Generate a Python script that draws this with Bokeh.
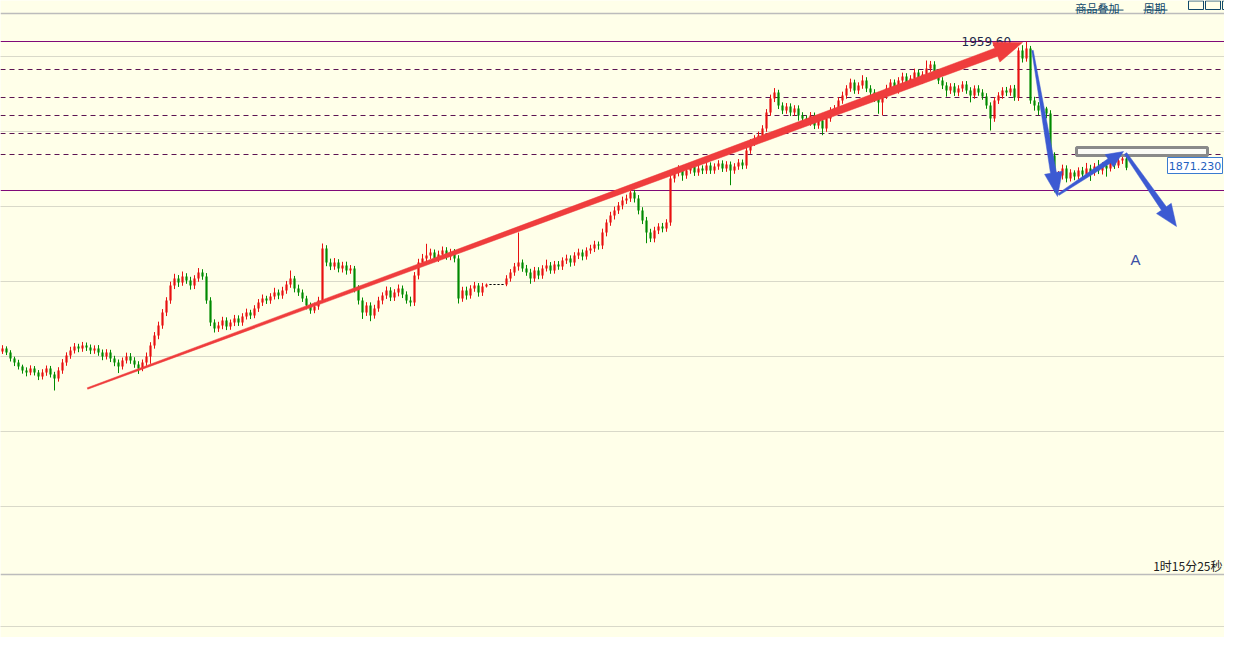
import math
from bokeh.plotting import figure
from bokeh.models import ColumnDataSource
from bokeh.core.properties import value
from bokeh.embed import file_html
from bokeh.resources import INLINE

# ---------------- data (bar index, price) ----------------
opens = [
    1742.6, 1744.7, 1741.9, 1737.7, 1734.9, 1732.1, 1729.3, 1727.9, 1730.7, 1727.9,
    1725.1, 1727.9, 1730.7, 1726.5, 1723.7, 1729.3, 1734.9, 1739.8, 1743.3, 1746.1,
    1744.7, 1746.8, 1745.4, 1743.3, 1744.7, 1741.9, 1739.1, 1741.9, 1737.7, 1734.9,
    1732.1, 1736.3, 1739.1, 1736.3, 1733.5, 1730.7, 1734.9, 1739.1, 1746.8, 1753.8,
    1760.8, 1769.9, 1778.3, 1788.8, 1793.7, 1790.9, 1795.1, 1792.3, 1788.8, 1793.7,
    1797.9, 1795.1, 1778.3, 1762.9, 1758.7, 1760.8, 1764.3, 1760.1, 1762.9, 1765.7,
    1762.9, 1767.1, 1769.9, 1767.8, 1772.7, 1776.9, 1779.7, 1778.3, 1781.1, 1783.9,
    1781.8, 1785.3, 1789.5, 1793.7, 1786.7, 1783.9, 1779.7, 1774.8, 1771.3, 1774.1,
    1778.3, 1814.7, 1804.9, 1802.1, 1804.9, 1800.7, 1802.8, 1799.3, 1800.7, 1786.7,
    1778.3, 1769.9, 1774.8, 1767.8, 1772.7, 1778.3, 1781.8, 1785.3, 1780.4, 1783.9,
    1786.7, 1782.5, 1778.3, 1776.9, 1795.8, 1804.9, 1807.7, 1809.8, 1811.9, 1807.7,
    1810.5, 1813.3, 1809.1, 1811.9, 1807.7, 1779.7, 1785.3, 1781.8, 1786.7, 1788.8,
    1783.9, 1788.1, 1789.5, 1789.5, 1789.5, 1789.5, 1789.5, 1793.7, 1797.9, 1802.1,
    1804.9, 1800.7, 1797.9, 1793.7, 1799.3, 1795.8, 1800.7, 1802.8, 1799.3, 1803.5,
    1802.1, 1806.3, 1807.7, 1804.9, 1809.8, 1811.9, 1809.1, 1813.3, 1814.7, 1817.5,
    1816.8, 1825.9, 1832.9, 1837.8, 1841.3, 1844.8, 1848.3, 1849.7, 1853.9, 1849.7,
    1841.3, 1834.3, 1825.9, 1821.7, 1827.3, 1830.1, 1828.7, 1832.9, 1863.7, 1867.9,
    1870.7, 1865.8, 1869.3, 1872.1, 1867.9, 1870.7, 1869.3, 1872.8, 1869.3, 1872.1,
    1874.2, 1870.7, 1873.5, 1869.3, 1872.1, 1874.9, 1872.8, 1883.3, 1888.9, 1891.7,
    1893.8, 1898.7, 1909.9, 1919.7, 1923.9, 1914.8, 1911.3, 1914.1, 1909.9, 1912.7,
    1907.8, 1905.7, 1902.9, 1907.8, 1900.8, 1904.3, 1898.7, 1905.7, 1911.3, 1912.7,
    1918.3, 1921.8, 1926.7, 1930.9, 1925.3, 1928.8, 1932.3, 1926.7, 1923.9, 1919.7,
    1916.9, 1921.8, 1926.7, 1930.9, 1925.3, 1932.3, 1935.1, 1929.5, 1933.7, 1937.9,
    1932.3, 1936.5, 1940.7, 1943.5, 1937.9, 1932.3, 1928.8, 1925.3, 1928.1, 1923.9,
    1926.7, 1929.5, 1925.3, 1921.8, 1926.7, 1923.9, 1921.1, 1914.8, 1905.7, 1918.3,
    1921.8, 1925.3, 1923.9, 1926.7, 1920.4, 1953.3, 1947.7, 1954.7, 1918.3, 1914.8,
    1911.3, 1912.7, 1909.2, 1879.8, 1862.3, 1865.8, 1870.7, 1863.7, 1867.9, 1865.1,
    1869.3, 1866.5, 1870.7, 1867.9, 1872.1, 1869.3, 1872.8, 1870.7, 1874.9, 1872.8,
    1876.3, 1877.7,
]
closes = [
    1744.7, 1741.9, 1737.7, 1734.9, 1732.1, 1729.3, 1727.9, 1730.7, 1727.9, 1725.1,
    1727.9, 1730.7, 1726.5, 1723.7, 1729.3, 1734.9, 1739.8, 1743.3, 1746.1, 1744.7,
    1746.8, 1745.4, 1743.3, 1744.7, 1741.9, 1739.1, 1741.9, 1737.7, 1734.9, 1732.1,
    1736.3, 1739.1, 1736.3, 1733.5, 1730.7, 1734.9, 1739.1, 1746.8, 1753.8, 1760.8,
    1769.9, 1778.3, 1788.8, 1793.7, 1790.9, 1795.1, 1792.3, 1788.8, 1793.7, 1797.9,
    1795.1, 1778.3, 1762.9, 1758.7, 1760.8, 1764.3, 1760.1, 1762.9, 1765.7, 1762.9,
    1767.1, 1769.9, 1767.8, 1772.7, 1776.9, 1779.7, 1778.3, 1781.1, 1783.9, 1781.8,
    1785.3, 1789.5, 1793.7, 1786.7, 1783.9, 1779.7, 1774.8, 1771.3, 1774.1, 1778.3,
    1814.7, 1804.9, 1802.1, 1804.9, 1800.7, 1802.8, 1799.3, 1800.7, 1786.7, 1778.3,
    1769.9, 1774.8, 1767.8, 1772.7, 1778.3, 1781.8, 1785.3, 1780.4, 1783.9, 1786.7,
    1782.5, 1778.3, 1776.9, 1795.8, 1804.9, 1807.7, 1809.8, 1811.9, 1807.7, 1810.5,
    1813.3, 1809.1, 1811.9, 1807.7, 1779.7, 1785.3, 1781.8, 1786.7, 1788.8, 1783.9,
    1788.1, 1789.5, 1789.5, 1789.5, 1789.5, 1789.5, 1793.7, 1797.9, 1802.1, 1804.9,
    1800.7, 1797.9, 1793.7, 1799.3, 1795.8, 1800.7, 1802.8, 1799.3, 1803.5, 1802.1,
    1806.3, 1807.7, 1804.9, 1809.8, 1811.9, 1809.1, 1813.3, 1814.7, 1817.5, 1816.8,
    1825.9, 1832.9, 1837.8, 1841.3, 1844.8, 1848.3, 1849.7, 1853.9, 1849.7, 1841.3,
    1834.3, 1825.9, 1821.7, 1827.3, 1830.1, 1828.7, 1832.9, 1863.7, 1867.9, 1870.7,
    1865.8, 1869.3, 1872.1, 1867.9, 1870.7, 1869.3, 1872.8, 1869.3, 1872.1, 1874.2,
    1870.7, 1873.5, 1869.3, 1872.1, 1874.9, 1872.8, 1883.3, 1888.9, 1891.7, 1893.8,
    1898.7, 1909.9, 1919.7, 1923.9, 1914.8, 1911.3, 1914.1, 1909.9, 1912.7, 1907.8,
    1905.7, 1902.9, 1907.8, 1900.8, 1904.3, 1898.7, 1905.7, 1911.3, 1912.7, 1918.3,
    1921.8, 1926.7, 1930.9, 1925.3, 1928.8, 1932.3, 1926.7, 1923.9, 1919.7, 1916.9,
    1921.8, 1926.7, 1930.9, 1925.3, 1932.3, 1935.1, 1929.5, 1933.7, 1937.9, 1932.3,
    1936.5, 1940.7, 1943.5, 1937.9, 1932.3, 1928.8, 1925.3, 1928.1, 1923.9, 1926.7,
    1929.5, 1925.3, 1921.8, 1926.7, 1923.9, 1921.1, 1914.8, 1905.7, 1918.3, 1921.8,
    1925.3, 1923.9, 1926.7, 1920.4, 1953.3, 1947.7, 1954.7, 1918.3, 1914.8, 1911.3,
    1912.7, 1909.2, 1879.8, 1862.3, 1865.8, 1870.7, 1863.7, 1867.9, 1865.1, 1869.3,
    1866.5, 1870.7, 1867.9, 1872.1, 1869.3, 1872.8, 1870.7, 1874.9, 1872.8, 1876.3,
    1877.7, 1871.23,
]
highs = [
    1747.0, 1746.2, 1743.5, 1739.0, 1736.8, 1733.4, 1731.5, 1732.9, 1732.4, 1729.6,
    1730.2, 1732.8, 1732.5, 1728.4, 1731.6, 1737.3, 1742.0, 1745.9, 1748.5, 1748.0,
    1749.3, 1748.9, 1747.5, 1746.9, 1747.1, 1744.0, 1744.2, 1743.8, 1739.6, 1737.0,
    1738.4, 1741.8, 1741.5, 1738.6, 1735.8, 1737.0, 1741.9, 1749.1, 1756.2, 1763.5,
    1772.3, 1780.6, 1791.5, 1797.0, 1796.1, 1798.6, 1797.4, 1794.9, 1796.0, 1801.0,
    1800.2, 1797.5, 1780.6, 1765.1, 1763.4, 1766.9, 1766.5, 1765.0, 1768.2, 1767.9,
    1769.4, 1772.6, 1771.8, 1775.0, 1779.3, 1782.5, 1781.6, 1783.4, 1787.2, 1786.0,
    1787.9, 1792.0, 1799.3, 1795.5, 1789.4, 1786.0, 1781.6, 1776.9, 1776.8, 1780.9,
    1818.2, 1817.0, 1807.6, 1808.0, 1807.2, 1805.4, 1805.5, 1803.1, 1802.5, 1789.0,
    1780.4, 1777.1, 1777.0, 1775.3, 1780.9, 1784.0, 1788.1, 1787.6, 1786.2, 1789.5,
    1788.8, 1784.7, 1781.0, 1798.2, 1807.5, 1810.9, 1818.0, 1814.6, 1814.0, 1813.2,
    1816.1, 1815.6, 1814.5, 1814.3, 1810.0, 1787.9, 1788.0, 1789.0, 1791.3, 1790.5,
    1790.6, 1790.2, 1789.5, 1789.5, 1789.5, 1789.5, 1796.0, 1800.3, 1804.6, 1825.9,
    1807.0, 1803.2, 1800.5, 1801.8, 1801.6, 1803.0, 1806.9, 1805.2, 1806.0, 1805.9,
    1808.5, 1810.4, 1809.9, 1812.1, 1814.6, 1814.0, 1815.5, 1817.3, 1820.1, 1819.6,
    1828.6, 1835.1, 1840.4, 1844.0, 1847.2, 1851.0, 1852.4, 1856.7, 1855.8, 1852.1,
    1843.6, 1836.8, 1828.5, 1829.9, 1832.4, 1832.6, 1835.2, 1866.5, 1870.6, 1873.0,
    1872.9, 1871.6, 1874.5, 1874.0, 1873.1, 1872.9, 1875.2, 1875.0, 1874.3, 1876.5,
    1876.4, 1875.8, 1875.6, 1874.4, 1877.3, 1877.0, 1885.6, 1891.2, 1894.0, 1896.5,
    1901.0, 1912.3, 1922.4, 1927.0, 1925.8, 1917.0, 1916.5, 1916.3, 1915.0, 1914.9,
    1910.1, 1908.0, 1910.2, 1909.9, 1906.7, 1906.5, 1908.0, 1913.6, 1915.1, 1920.6,
    1924.5, 1929.0, 1933.6, 1932.9, 1931.0, 1936.0, 1934.6, 1929.0, 1926.2, 1922.0,
    1924.0, 1929.3, 1933.2, 1933.0, 1934.6, 1937.8, 1937.4, 1936.0, 1940.6, 1940.1,
    1938.8, 1946.3, 1946.0, 1945.8, 1940.2, 1934.6, 1931.1, 1930.4, 1930.5, 1929.0,
    1931.8, 1931.9, 1927.6, 1928.9, 1929.0, 1926.2, 1923.4, 1917.0, 1920.6, 1924.1,
    1927.6, 1927.8, 1929.0, 1929.2, 1955.4, 1957.0, 1959.6, 1956.5, 1920.9, 1917.1,
    1915.8, 1913.9, 1911.5, 1882.0, 1868.9, 1873.4, 1872.9, 1870.2, 1869.4, 1871.5,
    1871.8, 1874.6, 1873.3, 1874.5, 1876.6, 1875.0, 1875.4, 1877.2, 1877.4, 1878.6,
    1880.1, 1878.9,
]
lows = [
    1740.9, 1740.1, 1735.6, 1732.4, 1730.0, 1727.1, 1725.2, 1726.0, 1725.8, 1722.6,
    1723.0, 1725.6, 1724.4, 1715.3, 1721.5, 1727.0, 1732.6, 1737.5, 1741.2, 1742.1,
    1742.4, 1743.0, 1740.8, 1741.0, 1739.6, 1736.5, 1737.0, 1735.2, 1732.3, 1727.5,
    1730.0, 1734.2, 1734.0, 1731.2, 1726.9, 1728.8, 1732.6, 1734.0, 1744.6, 1751.2,
    1758.5, 1767.4, 1776.0, 1786.3, 1787.8, 1788.6, 1790.0, 1785.9, 1786.3, 1791.4,
    1792.8, 1776.0, 1760.4, 1755.9, 1756.3, 1758.2, 1757.6, 1757.8, 1760.4, 1760.5,
    1760.6, 1765.0, 1765.3, 1765.9, 1770.3, 1774.5, 1775.9, 1776.0, 1779.0, 1779.2,
    1779.5, 1783.0, 1787.2, 1784.0, 1781.5, 1777.3, 1772.1, 1769.0, 1769.4, 1771.8,
    1776.9, 1802.3, 1799.6, 1799.8, 1798.0, 1797.9, 1796.4, 1797.0, 1784.0, 1775.5,
    1765.4, 1767.5, 1763.8, 1765.6, 1770.4, 1775.6, 1779.4, 1777.9, 1778.0, 1781.2,
    1780.0, 1776.1, 1774.2, 1774.5, 1793.1, 1802.3, 1805.0, 1807.4, 1805.2, 1805.3,
    1808.0, 1806.8, 1806.5, 1805.0, 1776.2, 1777.4, 1778.9, 1779.6, 1784.4, 1781.0,
    1781.5, 1787.4, 1789.5, 1789.5, 1789.5, 1789.5, 1788.3, 1791.5, 1795.6, 1799.2,
    1798.4, 1795.6, 1790.0, 1791.4, 1793.2, 1793.5, 1798.6, 1797.0, 1797.1, 1799.8,
    1799.7, 1803.9, 1802.0, 1802.6, 1807.3, 1806.4, 1806.9, 1811.0, 1812.2, 1813.9,
    1814.3, 1823.2, 1830.6, 1835.0, 1838.9, 1842.1, 1845.9, 1847.3, 1846.9, 1838.6,
    1831.8, 1818.4, 1819.2, 1819.0, 1824.8, 1826.0, 1826.4, 1830.6, 1860.9, 1865.2,
    1862.1, 1863.5, 1867.0, 1865.5, 1865.6, 1866.8, 1866.9, 1866.9, 1867.0, 1869.8,
    1868.3, 1868.4, 1859.0, 1867.0, 1869.8, 1870.2, 1870.5, 1881.0, 1886.5, 1889.4,
    1891.5, 1896.4, 1907.6, 1917.2, 1912.3, 1908.8, 1909.0, 1907.4, 1907.6, 1904.2,
    1903.4, 1900.5, 1900.6, 1898.3, 1898.5, 1894.0, 1896.4, 1903.4, 1909.0, 1910.4,
    1916.0, 1919.5, 1924.4, 1923.0, 1922.8, 1926.5, 1924.2, 1921.5, 1917.3, 1909.0,
    1908.0, 1919.4, 1924.2, 1923.0, 1923.1, 1930.0, 1927.0, 1927.2, 1931.4, 1929.8,
    1930.0, 1934.2, 1938.4, 1935.6, 1929.8, 1926.3, 1921.0, 1922.9, 1921.5, 1921.3,
    1924.4, 1923.0, 1917.0, 1919.5, 1921.6, 1918.8, 1912.5, 1897.3, 1903.4, 1915.9,
    1919.5, 1921.4, 1921.6, 1918.1, 1918.0, 1944.9, 1945.5, 1916.0, 1911.2, 1908.0,
    1906.9, 1905.8, 1877.2, 1854.0, 1859.9, 1863.0, 1861.0, 1861.6, 1862.5, 1863.1,
    1863.9, 1864.4, 1862.0, 1865.6, 1866.8, 1866.5, 1865.0, 1868.6, 1870.4, 1871.0,
    1873.9, 1869.5,
]
bar_index = list(range(len(closes)))

swing_high = 1959.6
swing_low = 1855.3
fib_levels = [1940.0, 1920.4, 1907.8, 1895.2, 1880.5]
grid_levels = [1948.9, 1896.5, 1844.0, 1791.6, 1739.2, 1686.7, 1634.3, 1550.3]
pane_top_level = 1979.0
pane_split_level = 1586.5
last_price = 1871.23

# annotation anchors (bar index, price)
red_arrow = [21.25, 1716.7, 255.0, 1958.9]
blue_arrows = [
    [257.5, 1953.3, 263.75, 1851.1],
    [264.0, 1852.5, 280.25, 1882.6],
    [280.75, 1881.2, 293.5, 1830.1],
]
zone_box = [268.5, 301.25, 1885.4, 1879.8]   # left, right, top, bottom
price_box = [291.25, 305.0, 1878.4, 1867.2]
menu_items = ["商品叠加", "周期"]
menu_x = [268.25, 285.25]
menu_x_end = [280.25, 291.25]
icon_left = [296.5, 300.75, 305.0]
icon_right = [300.25, 304.5, 309.0]

# ---------------- figure ----------------
W, H = 1224, 637
X0, X1 = -0.5, 305.5
Y0, Y1 = 1542.4, 1988.3
BG = "#FFFFE9"

p = figure(width=W, height=H, x_range=(X0, X1), y_range=(Y0, Y1),
           output_backend="svg", toolbar_location=None, title=None,
           x_axis_type=None, y_axis_type=None, min_border=0,
           background_fill_color=BG, border_fill_color=BG, outline_line_color=None)
p.min_border_left = p.min_border_right = p.min_border_top = p.min_border_bottom = 0

# grid & level lines
p.hspan(y=grid_levels, line_color="#b2b2a8", line_width=1, line_dash="1 1")
p.hspan(y=[pane_top_level, pane_split_level], line_color="#bcbcbc", line_width=1.6)
p.hspan(y=fib_levels, line_color="#5c1452", line_width=1, line_dash="5 4")
p.hspan(y=[swing_high, swing_low], line_color="#800a78", line_width=1.2)

# candles
UP, DOWN, FLAT = "#e81010", "#008a00", "#000000"
colors, tops, bots, wt, wb = [], [], [], [], []
for o, h, l, c in zip(opens, highs, lows, closes):
    colors.append(UP if c > o else (DOWN if c < o else FLAT))
    t, b = max(o, c), min(o, c)
    if t - b < 0.7:
        mid = (t + b) / 2
        t, b = mid + 0.35, mid - 0.35
    tops.append(t)
    bots.append(b)
    wt.append(max(h, o, c))
    wb.append(min(l, o, c))
src = ColumnDataSource(dict(x=bar_index, top=tops, bottom=bots, hi=wt, lo=wb, color=colors))
p.segment(x0="x", y0="lo", x1="x", y1="hi", color="color", line_width=1, source=src)
p.vbar(x="x", width=0.55, top="top", bottom="bottom", fill_color="color", line_color=None, source=src)

# zone rectangle
p.quad(left=[zone_box[0]], right=[zone_box[1]], top=[zone_box[2]], bottom=[zone_box[3]],
       fill_color="#fbfbf6", line_color="#8a8a8a", line_width=3)

# high label (under arrow)
p.text(x=[239.75], y=[swing_high], text=["1959.60"], text_font=value("DejaVu Sans"),
       text_font_size="12px", text_color="#1c2848", text_align="left", text_baseline="middle")

# arrows
PX_X = W / (X1 - X0)
PX_Y = H / (Y1 - Y0)


def arrow_poly(a, w0, w1, hl, hw):
    sx, sy = a[0] * PX_X, a[1] * PX_Y
    tx, ty = a[2] * PX_X, a[3] * PX_Y
    dx, dy = tx - sx, ty - sy
    L = math.hypot(dx, dy)
    ux, uy = dx / L, dy / L
    nx, ny = -uy, ux
    bx, by = tx - ux * hl, ty - uy * hl
    pts = [(sx + nx * w0 / 2, sy + ny * w0 / 2), (bx + nx * w1 / 2, by + ny * w1 / 2),
           (bx + nx * hw, by + ny * hw), (tx, ty), (bx - nx * hw, by - ny * hw),
           (bx - nx * w1 / 2, by - ny * w1 / 2), (sx - nx * w0 / 2, sy - ny * w0 / 2)]
    return [q[0] / PX_X for q in pts], [q[1] / PX_Y for q in pts]


xs, ys = arrow_poly(red_arrow, 1.5, 8.5, 28, 10.5)
p.patch(xs, ys, fill_color="#ef3d3d", line_color="#ef3d3d", line_width=0.5)

BLUE = "#3c5ad2"
for a, prm in zip(blue_arrows, [(1.5, 6, 24, 9), (2, 5, 17, 7.5), (3, 6, 22, 9)]):
    xs, ys = arrow_poly(a, *prm)
    p.patch(xs, ys, fill_color=BLUE, line_color=BLUE, line_width=0.5)

# price tag
p.quad(left=[price_box[0]], right=[price_box[1]], top=[price_box[2]], bottom=[price_box[3]],
       fill_color="#ffffff", line_color="#3a7bd0", line_width=1)
p.text(x=[(price_box[0] + price_box[1]) / 2], y=[(price_box[2] + price_box[3]) / 2],
       text=["%.3f" % last_price], text_font=value("DejaVu Sans"), text_font_size="11px",
       text_color="#1f5fbf", text_align="center", text_baseline="middle")

# wave label
p.text(x=[283.25], y=[1807.0], text=["A"], text_font=value("Liberation Sans"),
       text_font_size="15px", text_color="#3b4fa5", text_align="center", text_baseline="middle")

# countdown
p.text(x=[305.0], y=[1592.8], text=["1时15分25秒"], text_font=value("Noto Sans CJK SC"),
       text_font_size="12px", text_color="#202020", text_align="right", text_baseline="middle")

# top-right menu (partly cut by the top edge, as in the original)
MENU = "#10486a"
p.text(x=menu_x, y=[1989.0, 1989.0], text=menu_items,
       text_font=value("Noto Sans CJK SC"), text_font_size="11px", text_color=MENU,
       text_align="left", text_baseline="top")
p.segment(x0=menu_x, y0=[1981.6, 1981.6], x1=menu_x_end, y1=[1981.6, 1981.6],
          line_color=MENU, line_width=1)
p.quad(left=icon_left, right=icon_right, top=[1988.0] * 3, bottom=[1982.0] * 3,
       fill_color=None, line_color=MENU, line_width=1)

open("out.html", "w").write(file_html(p, INLINE))
